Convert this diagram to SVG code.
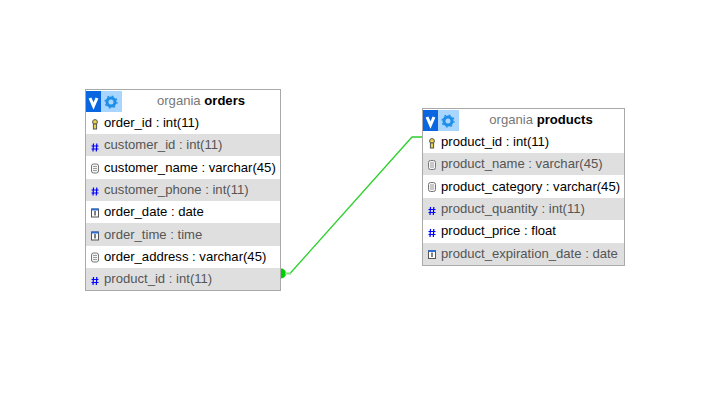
<svg xmlns="http://www.w3.org/2000/svg" width="705" height="402" viewBox="0 0 705 402">
<style>
text{font-family:"Liberation Sans",Arial,sans-serif;font-size:13.1px;fill:#000}
.alt text{fill:#555}
.box{fill:#fff;stroke:#a9a9a9;stroke-width:1}
.g{fill:#dfdfdf}
.t{text-anchor:middle}
.db{fill:#777}
.n{font-weight:bold;fill:#000}
.hash{fill:none;stroke:#00f;stroke-width:1.2}
.fld{fill:#f4f4f4;stroke:#777;stroke-width:1}
.ln{stroke:#888;stroke-width:.8;fill:none}
.date{fill:#fff;stroke:#555;stroke-width:1}
.dt{fill:#2b6fd6}
.key{fill:#e8d44a;stroke:#555;stroke-width:1}
.conn{fill:none;stroke:#2bd12b;stroke-width:1.3}
</style>
<defs>
<g id="logo"><rect x="0" y="0" width="36" height="21" fill="#a9d6ff"/><rect x="0" y="0" width="15" height="21" fill="#0a66e0"/><path d="M4 7 L7.500 15 L11 7" fill="none" stroke="#fff" stroke-width="3"/><circle cx="25" cy="11" r="4" fill="none" stroke="#1e8fe8" stroke-width="3"/><circle cx="25" cy="11" r="6" fill="none" stroke="#1e8fe8" stroke-width="1.200" stroke-dasharray="2 2.700"/></g>
<path id="hash" class="hash" d="M-1.500 -4L-2 4M1.800 -4L1.300 4M-3.500 -1.500H3.500M-3.500 1.500H3.500"/>
<g id="key"><circle cx="0" cy="-2.500" r="2.400" class="key"/><rect x="-1.600" y="-.5" width="3.200" height="5" class="key"/></g>
<g id="fld"><rect x="-3.500" y="-4.500" width="7" height="9" rx="2" class="fld"/><path d="M-2 -2H2M-2 0H2M-2 2H2" class="ln"/></g>
<g id="date"><rect x="-3.500" y="-4" width="7" height="8" class="date"/><rect x="-3.500" y="-4.500" width="7" height="2" class="dt"/><path d="M0 -2V2.500" stroke="#000" stroke-width="1"/></g>
</defs>
<g id="connectors">
<path class="conn" d="M290 273.500L412 137H422"/>
<path d="M281 268.500A5 5 0 0 1 281 278.500Z" fill="#0c0"/>
<path d="M285 273.500H291" stroke="#7fe57f" stroke-width="2" fill="none"/>
</g>
<g id="orders">
<rect class="box" x="85.500" y="89.500" width="195" height="201"/>
<use href="#logo" x="86" y="91"/>
<text x="201" y="105" class="t"><tspan class="db">organia </tspan><tspan class="n">orders</tspan></text>
<rect class="g" x="86" y="134" width="194" height="22"/>
<rect class="g" x="86" y="179" width="194" height="22"/>
<rect class="g" x="86" y="223" width="194" height="23"/>
<rect class="g" x="86" y="268" width="194" height="22"/>
<use href="#key" x="95" y="124.500"/>
<use href="#hash" x="95" y="147.500"/>
<use href="#fld" x="95" y="168.500"/>
<use href="#hash" x="95" y="191.500"/>
<use href="#date" x="95" y="213"/>
<use href="#date" x="95" y="236"/>
<use href="#fld" x="95" y="257.500"/>
<use href="#hash" x="95" y="281"/>
<text x="104" y="127">order_id : int(11)</text>
<g class="alt"><text x="104" y="149">customer_id : int(11)</text></g>
<text x="104" y="172">customer_name : varchar(45)</text>
<g class="alt"><text x="104" y="194">customer_phone : int(11)</text></g>
<text x="104" y="216">order_date : date</text>
<g class="alt"><text x="104" y="239">order_time : time</text></g>
<text x="104" y="261">order_address : varchar(45)</text>
<g class="alt"><text x="104" y="283">product_id : int(11)</text></g>
</g>
<g id="products">
<rect class="box" x="422.500" y="108.500" width="202" height="157"/>
<use href="#logo" x="423" y="110"/>
<text x="541" y="124" class="t"><tspan class="db">organia </tspan><tspan class="n">products</tspan></text>
<rect class="g" x="423" y="153" width="201" height="22"/>
<rect class="g" x="423" y="198" width="201" height="22"/>
<rect class="g" x="423" y="243" width="201" height="22"/>
<use href="#key" x="432" y="143.500"/>
<use href="#fld" x="432" y="165"/>
<use href="#fld" x="432" y="187"/>
<use href="#hash" x="432" y="211"/>
<use href="#hash" x="432" y="233"/>
<use href="#date" x="432" y="254.500"/>
<text x="441" y="146">product_id : int(11)</text>
<g class="alt"><text x="441" y="168">product_name : varchar(45)</text></g>
<text x="441" y="191">product_category : varchar(45)</text>
<g class="alt"><text x="441" y="213">product_quantity : int(11)</text></g>
<text x="441" y="235">product_price : float</text>
<g class="alt"><text x="441" y="258">product_expiration_date : date</text></g>
</g>
</svg>
